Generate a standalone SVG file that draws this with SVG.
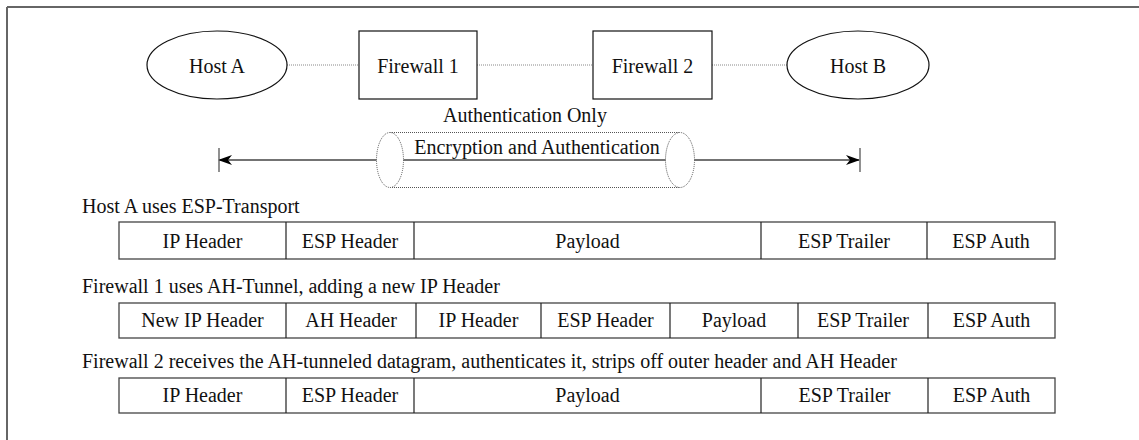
<svg xmlns="http://www.w3.org/2000/svg" width="1139" height="440" viewBox="0 0 1139 440">
  <style>
    text { font-family: "Liberation Serif", "Times New Roman", serif; font-size: 20px; fill: #111; }
    .c { text-anchor: middle; }
    .node { fill: #fff; stroke: #111; stroke-width: 1.2; }
    .link { stroke: #888; stroke-width: 1; stroke-dasharray: 1 1; fill: none; }
    .tube { stroke: #555; stroke-width: 1; stroke-dasharray: 1 1; fill: #fff; }
    .cell { fill: #fff; stroke: #444; stroke-width: 1.3; }
    .div { stroke: #222; stroke-width: 1.2; }
  </style>
  <defs>
    <marker id="arr" viewBox="0 0 14 10" refX="13" refY="5" markerWidth="14" markerHeight="10" markerUnits="userSpaceOnUse" orient="auto-start-reverse">
      <path d="M0,0 L14,5 L0,10 L4,5 Z" fill="#000"/>
    </marker>
  </defs>

  <!-- frame (top and left edges) -->
  <path d="M7,7 H1139 M7,7 V440" stroke="#666" stroke-width="2" fill="none"/>

  <!-- connectors -->
  <g id="connectors">
    <line class="link" x1="287" y1="65" x2="359" y2="65"/>
    <line class="link" x1="477" y1="65" x2="593" y2="65"/>
    <line class="link" x1="712" y1="65" x2="787" y2="65"/>
    <!-- end-to-end span -->
    <line x1="219" y1="160" x2="859" y2="160" stroke="#444" stroke-width="1.3" marker-start="url(#arr)" marker-end="url(#arr)"/>
    <line x1="219" y1="148" x2="219" y2="172" stroke="#555" stroke-width="1.3"/>
    <line x1="860" y1="148" x2="860" y2="172" stroke="#555" stroke-width="1.3"/>
  </g>

  <!-- nodes -->
  <g id="hostA">
    <ellipse class="node" cx="217" cy="65" rx="70" ry="34"/>
    <text class="c" x="217" y="73">Host A</text>
  </g>
  <g id="firewall1">
    <rect class="node" x="359" y="31" width="118" height="68"/>
    <text class="c" x="418" y="73">Firewall 1</text>
  </g>
  <g id="firewall2">
    <rect class="node" x="593" y="31" width="119" height="68"/>
    <text class="c" x="652.5" y="73">Firewall 2</text>
  </g>
  <g id="hostB">
    <ellipse class="node" cx="858" cy="65" rx="71" ry="34"/>
    <text class="c" x="858" y="73">Host B</text>
  </g>

  <!-- tunnel between firewalls -->
  <g id="tunnel">
    <text class="c" x="525" y="122">Authentication Only</text>
    <line class="tube" x1="390" y1="132.5" x2="680" y2="132.5"/>
    <line class="tube" x1="390" y1="187.5" x2="680" y2="187.5"/>
    <ellipse class="tube" cx="390" cy="160" rx="13.5" ry="27.5"/>
    <ellipse class="tube" cx="680" cy="160" rx="14.5" ry="27.5"/>
    <text class="c" x="537" y="154">Encryption and Authentication</text>
  </g>

  <!-- packet 1 -->
  <g id="packet1">
    <text x="82" y="213">Host A uses ESP-Transport</text>
    <rect class="cell" x="119" y="222" width="936" height="37"/>
    <path class="div" d="M286,222 V259 M414,222 V259 M761,222 V259 M927,222 V259"/>
    <text class="c" x="202.5" y="248">IP Header</text>
    <text class="c" x="350" y="248">ESP Header</text>
    <text class="c" x="587.5" y="248">Payload</text>
    <text class="c" x="844" y="248">ESP Trailer</text>
    <text class="c" x="991" y="248">ESP Auth</text>
  </g>

  <!-- packet 2 -->
  <g id="packet2">
    <text x="82" y="293">Firewall 1 uses AH-Tunnel, adding a new IP Header</text>
    <rect class="cell" x="119" y="303" width="936" height="35"/>
    <path class="div" d="M286,303 V338 M416,303 V338 M541,303 V338 M670,303 V338 M798,303 V338 M928,303 V338"/>
    <text class="c" x="202.5" y="327">New IP Header</text>
    <text class="c" x="351" y="327">AH Header</text>
    <text class="c" x="478.5" y="327">IP Header</text>
    <text class="c" x="605.5" y="327">ESP Header</text>
    <text class="c" x="734" y="327">Payload</text>
    <text class="c" x="863" y="327">ESP Trailer</text>
    <text class="c" x="991.5" y="327">ESP Auth</text>
  </g>

  <!-- packet 3 -->
  <g id="packet3">
    <text x="82" y="368">Firewall 2 receives the AH-tunneled datagram, authenticates it, strips off outer header and AH Header</text>
    <rect class="cell" x="119" y="378" width="936" height="35"/>
    <path class="div" d="M286,378 V413 M414,378 V413 M761,378 V413 M928,378 V413"/>
    <text class="c" x="202.5" y="402">IP Header</text>
    <text class="c" x="350" y="402">ESP Header</text>
    <text class="c" x="587.5" y="402">Payload</text>
    <text class="c" x="844.5" y="402">ESP Trailer</text>
    <text class="c" x="991.5" y="402">ESP Auth</text>
  </g>
</svg>
